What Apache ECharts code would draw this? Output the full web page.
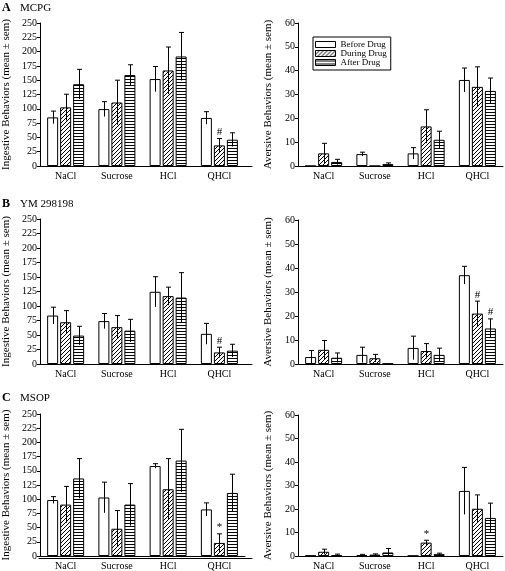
<!DOCTYPE html>
<html><head><meta charset="utf-8">
<script src="https://cdn.jsdelivr.net/npm/echarts@6/dist/echarts.min.js"></script>
<style>html,body{margin:0;padding:0;background:#fff}#c{width:505px;height:571px}</style>
</head><body><div id="c"></div><script>
// ---------- DATA ----------
const categories = ['NaCl', 'Sucrose', 'HCl', 'QHCl'];
const seriesNames = ['Before Drug', 'During Drug', 'After Drug'];

// A  MCPG – ingestive
const mcpgIngBefore = [85, 99.5, 152, 84];
const mcpgIngBeforeSem = [11, 13, 22, 11];
const mcpgIngDuring = [102.5, 111, 167, 36];
const mcpgIngDuringSem = [23, 39, 41, 12];
const mcpgIngAfter = [143, 159, 191.5, 46];
const mcpgIngAfterSem = [26, 18, 42, 12];
const mcpgIngSig = [['', '', '', ''], ['', '', '', '#'], ['', '', '', '']];
// A  MCPG – aversive
const mcpgAvBefore = [0, 5.0, 5.3, 36.1];
const mcpgAvBeforeSem = [0, 0.8, 2.4, 5];
const mcpgAvDuring = [5.3, 0, 16.6, 33.2];
const mcpgAvDuringSem = [4.2, 0, 7, 8.4];
const mcpgAvAfter = [1.7, 0.8, 11, 31.5];
const mcpgAvAfterSem = [1.1, 0.5, 3.6, 5.4];
const mcpgAvSig = [['', '', '', ''], ['', '', '', ''], ['', '', '', '']];

// B  YM 298198 – ingestive
const ymIngBefore = [83.5, 74, 124.5, 52];
const ymIngBeforeSem = [14.5, 13, 26, 18];
const ymIngDuring = [72, 63.5, 117, 20];
const ymIngDuringSem = [20, 20, 15.5, 9];
const ymIngAfter = [49, 57.5, 114.5, 23];
const ymIngAfterSem = [16, 19.5, 43, 11];
const ymIngSig = [['', '', '', ''], ['', '', '', '#'], ['', '', '', '']];
// B  YM 298198 – aversive
const ymAvBefore = [2.9, 3.8, 6.7, 37];
const ymAvBeforeSem = [2.7, 3.2, 4.9, 3.7];
const ymAvDuring = [5.9, 2.4, 5.4, 21];
const ymAvDuringSem = [3.9, 1.6, 3.1, 5.2];
const ymAvAfter = [2.6, 0.2, 3.8, 14.8];
const ymAvAfterSem = [2, 0, 2.8, 4];
const ymAvSig = [['', '', '', ''], ['', '', '', '#'], ['', '', '', '#']];

// C  MSOP – ingestive
const msopIngBefore = [98.5, 103, 158.5, 82];
const msopIngBeforeSem = [6, 27, 4, 11.5];
const msopIngDuring = [90.5, 48, 117.5, 23];
const msopIngDuringSem = [32, 32, 54, 16];
const msopIngAfter = [136.5, 90.5, 168, 111];
const msopIngAfterSem = [35, 37, 55, 33];
const msopIngSig = [['', '', '', ''], ['', '', '', '*'], ['', '', '', '']];
// C  MSOP – aversive
const msopAvBefore = [0.2, 0.4, 0.1, 27.7];
const msopAvBeforeSem = [0, 0.3, 0, 10];
const msopAvDuring = [1.8, 0.6, 5.7, 20.1];
const msopAvDuringSem = [1.1, 0.3, 1, 5.9];
const msopAvAfter = [0.4, 1.5, 0.8, 16.2];
const msopAvAfterSem = [0.4, 1.7, 0.4, 6.3];
const msopAvSig = [['', '', '', ''], ['', '', '*', ''], ['', '', '', '']];

const panelLetters = ['A', 'B', 'C'];
const drugNames = ['MCPG', 'YM 298198', 'MSOP'];
const ingestiveName = 'Ingestive Behaviors (mean \u00b1 sem)';
const aversiveName = 'Aversive Behaviors (mean \u00b1 sem)';

// ---------- STYLE / LAYOUT ----------
const FONT = '"Liberation Serif", "Times New Roman", serif';
const BAR_W = 11, BAR_GAP = 2;

function hatchCanvas() {
  const c = document.createElement('canvas'); c.width = 4; c.height = 4;
  const g = c.getContext('2d');
  g.fillStyle = '#fff'; g.fillRect(0, 0, 4, 4);
  g.strokeStyle = '#000'; g.lineWidth = 1;
  g.beginPath();
  g.moveTo(0, 4); g.lineTo(4, 0);
  g.moveTo(-1, 1); g.lineTo(1, -1);
  g.moveTo(3, 5); g.lineTo(5, 3);
  g.stroke();
  return c;
}
function stripeCanvas() {
  const c = document.createElement('canvas'); c.width = 4; c.height = 3;
  const g = c.getContext('2d');
  g.fillStyle = '#fff'; g.fillRect(0, 0, 4, 3);
  g.fillStyle = '#000'; g.fillRect(0, 1, 4, 1);
  return c;
}
const fills = ['#ffffff', { image: hatchCanvas(), repeat: 'repeat' }, { image: stripeCanvas(), repeat: 'repeat' }];

const panels = [
  { grid: { left: 39, top: 23, width: 206, height: 143 }, ext: 213, max: 250, interval: 25, name: ingestiveName, nameGap: 28,
    means: [mcpgIngBefore, mcpgIngDuring, mcpgIngAfter], sems: [mcpgIngBeforeSem, mcpgIngDuringSem, mcpgIngAfterSem], sig: mcpgIngSig },
  { grid: { left: 298, top: 23, width: 205, height: 143 }, max: 60, interval: 10, name: aversiveName, nameGap: 24,
    means: [mcpgAvBefore, mcpgAvDuring, mcpgAvAfter], sems: [mcpgAvBeforeSem, mcpgAvDuringSem, mcpgAvAfterSem], sig: mcpgAvSig },
  { grid: { left: 39, top: 219, width: 206, height: 145 }, ext: 213, max: 250, interval: 25, name: ingestiveName, nameGap: 28,
    means: [ymIngBefore, ymIngDuring, ymIngAfter], sems: [ymIngBeforeSem, ymIngDuringSem, ymIngAfterSem], sig: ymIngSig },
  { grid: { left: 298, top: 220, width: 205, height: 144 }, max: 60, interval: 10, name: aversiveName, nameGap: 24,
    means: [ymAvBefore, ymAvDuring, ymAvAfter], sems: [ymAvBeforeSem, ymAvDuringSem, ymAvAfterSem], sig: ymAvSig },
  { grid: { left: 39, top: 414, width: 206, height: 144 }, ext: 213, max: 250, interval: 25, name: ingestiveName, nameGap: 28,
    means: [msopIngBefore, msopIngDuring, msopIngAfter], sems: [msopIngBeforeSem, msopIngDuringSem, msopIngAfterSem], sig: msopIngSig },
  { grid: { left: 298, top: 415, width: 205, height: 143 }, max: 60, interval: 10, name: aversiveName, nameGap: 24,
    means: [msopAvBefore, msopAvDuring, msopAvAfter], sems: [msopAvBeforeSem, msopAvDuringSem, msopAvAfterSem], sig: msopAvSig }
];

const grid = [], xAxis = [], yAxis = [], series = [];
const black = { color: '#000', width: 1 };

panels.forEach((p, i) => {
  grid.push(Object.assign({ containLabel: false }, p.grid));
  xAxis.push({
    type: 'category', gridIndex: i, data: categories,
    axisTick: { show: false },
    axisLine: { lineStyle: black },
    axisLabel: { color: '#000', fontFamily: FONT, fontSize: 10, margin: 5 }
  });
  yAxis.push({
    type: 'value', gridIndex: i, min: 0, max: p.max, interval: p.interval,
    axisLine: { show: true, lineStyle: black },
    axisTick: { show: true, length: 3, lineStyle: black },
    splitLine: { show: false },
    axisLabel: { color: '#000', fontFamily: FONT, fontSize: 10, margin: 3 },
    name: p.name, nameLocation: 'middle', nameGap: p.nameGap,
    nameTextStyle: { color: '#000', fontFamily: FONT, fontSize: 11 }
  });
  for (let k = 0; k < 3; k++) {
    series.push({
      type: 'bar', name: seriesNames[k], xAxisIndex: i, yAxisIndex: i,
      data: p.means[k], barWidth: BAR_W, barGap: (BAR_GAP / BAR_W * 100) + '%',
      itemStyle: { color: fills[k], borderColor: '#000', borderWidth: 1 },
      emphasis: { disabled: true }, animation: false
    });
  }
  for (let k = 0; k < 3; k++) {
    const sem = p.sems[k], sig = p.sig[k];
    series.push({
      type: 'custom', xAxisIndex: i, yAxisIndex: i, z: 5, animation: false,
      encode: { x: 0, y: 1 },
      data: categories.map((c, j) => [j, p.means[k][j], sem[j]]),
      renderItem: (params, api) => {
        const j = api.value(0), m = api.value(1), e = api.value(2);
        const off = (k - 1) * (BAR_W + BAR_GAP);
        const top = api.coord([j, m + e]);
        const bot = api.coord([j, Math.max(0, m - e)]);
        const x = Math.round(top[0] + off) + 0.5;
        const children = [];
        if (e > 0) {
          children.push({ type: 'line', shape: { x1: x, y1: top[1], x2: x, y2: bot[1] }, style: { stroke: '#000', lineWidth: 1 } });
          children.push({ type: 'line', shape: { x1: x - 2.5, y1: top[1], x2: x + 2.5, y2: top[1] }, style: { stroke: '#000', lineWidth: 1 } });
        }
        const s = sig[params.dataIndex];
        if (s) {
          children.push({ type: 'text', x: x, y: top[1] - 1,
            style: { text: s, fill: '#000', font: '11px ' + FONT, align: 'center', verticalAlign: 'bottom' } });
        }
        return { type: 'group', children };
      }
    });
  }
});

// extended x-axis lines for left panels (axis line runs past last group)
panels.forEach((p, i) => {
  if (!p.ext) return;
  const gi = grid.length;
  grid.push({ left: p.grid.left, top: p.grid.top, width: p.ext, height: p.grid.height });
  xAxis.push({ type: 'value', gridIndex: gi, min: 0, max: 1, axisLine: { show: true, lineStyle: black },
    axisTick: { show: false }, axisLabel: { show: false }, splitLine: { show: false } });
  yAxis.push({ type: 'value', gridIndex: gi, show: false, min: 0, max: 1 });
});

const title = [];
const titleTops = [2, 198, 392];
panelLetters.forEach((L, r) => {
  title.push({ text: L, left: 2, top: titleTops[r], padding: 0,
    textStyle: { fontFamily: FONT, fontWeight: 'bold', fontSize: 12, color: '#000' } });
  title.push({ text: drugNames[r], left: 20, top: titleTops[r] + 1, padding: 0,
    textStyle: { fontFamily: FONT, fontWeight: 'normal', fontSize: 11, color: '#000' } });
});

const chart = echarts.init(document.getElementById('c'), null, { renderer: 'canvas' });
chart.setOption({
  backgroundColor: '#fff',
  animation: false,
  title,
  legend: {
    data: seriesNames, orient: 'vertical', left: 313, top: 37,
    borderColor: '#000', borderWidth: 1, padding: [3, 4, 3, 2],
    itemWidth: 20, itemHeight: 6, itemGap: 0, itemTextGap: 5,
    icon: 'rect',
    itemStyle: { borderColor: '#000', borderWidth: 1 },
    textStyle: { fontFamily: FONT, fontSize: 9, color: '#000', lineHeight: 8 },
    selectedMode: false
  },
  grid, xAxis, yAxis, series
});
</script></body></html>
